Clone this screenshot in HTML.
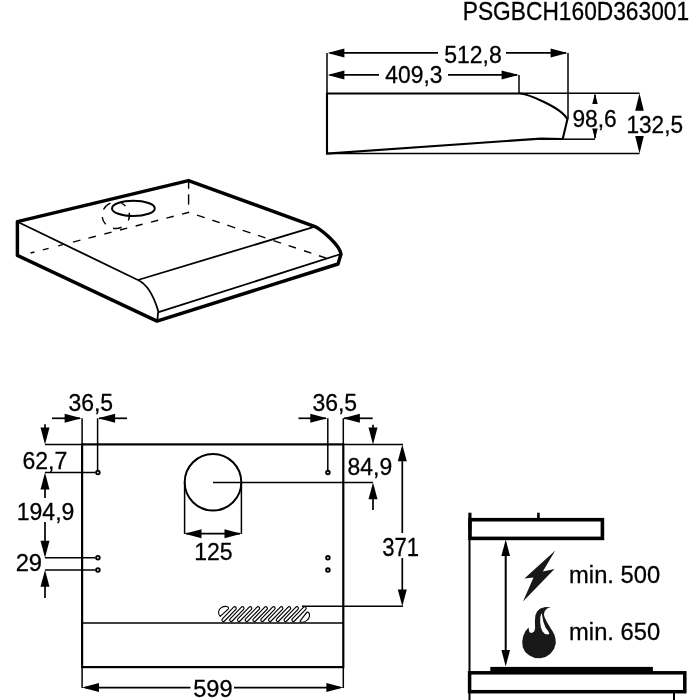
<!DOCTYPE html>
<html><head><meta charset="utf-8"><style>
html,body{margin:0;padding:0;background:#fff;}
svg{display:block;filter:grayscale(1);}
text{font-family:"Liberation Sans",sans-serif;fill:#000;stroke:#000;stroke-width:0.3px;}
</style></head><body>
<svg width="700" height="700" viewBox="0 0 700 700" stroke="#000" fill="none">
<rect x="0" y="0" width="700" height="700" fill="#fff" stroke="none"/>
<line x1="327" y1="52.9" x2="327" y2="153.5" stroke-width="1.5" />
<line x1="568" y1="52.9" x2="568" y2="119" stroke-width="1.5" />
<line x1="519" y1="74.9" x2="519" y2="93.5" stroke-width="1.5" />
<line x1="519" y1="93.3" x2="639.5" y2="93.3" stroke-width="1.5" />
<line x1="327" y1="153.5" x2="639.5" y2="153.5" stroke-width="1.5" />
<line x1="563" y1="139.2" x2="595" y2="139.2" stroke-width="1.5" />
<line x1="330" y1="52.9" x2="438" y2="52.9" stroke-width="1.7" />
<line x1="506" y1="52.9" x2="566" y2="52.9" stroke-width="1.7" />
<polygon points="327.50,52.90 344.40,48.40 344.40,57.40" fill="#000" stroke="none"/>
<polygon points="567.50,52.90 550.60,48.40 550.60,57.40" fill="#000" stroke="none"/>
<line x1="330" y1="74.9" x2="379" y2="74.9" stroke-width="1.7" />
<line x1="448" y1="74.9" x2="517" y2="74.9" stroke-width="1.7" />
<polygon points="327.50,74.90 344.40,70.40 344.40,79.40" fill="#000" stroke="none"/>
<polygon points="518.50,74.90 501.60,70.40 501.60,79.40" fill="#000" stroke="none"/>
<path d="M327,93.5 L519.3,93.5 C527,93.5 561.6,107.4 567.4,119.3 L562.7,139 L540.7,138.6 L327,153.5 Z" fill="none" stroke-width="2.1" stroke-linejoin="miter"/>
<line x1="595" y1="95" x2="595" y2="104" stroke-width="1.7" />
<line x1="595" y1="128.5" x2="595" y2="138" stroke-width="1.7" />
<polygon points="595.00,93.30 590.70,110.30 599.30,110.30" fill="#000" stroke="none"/>
<polygon points="595.00,139.20 590.70,122.20 599.30,122.20" fill="#000" stroke="none"/>
<rect x="572" y="104" width="46" height="24.5" fill="#fff" stroke="none"/>
<polygon points="639.50,93.30 635.20,110.80 643.80,110.80" fill="#000" stroke="none"/>
<polygon points="639.50,153.50 635.20,136.00 643.80,136.00" fill="#000" stroke="none"/>
<line x1="188.6" y1="181.9" x2="188.6" y2="188.7" stroke-width="1.4" />
<line x1="188.6" y1="194.3" x2="188.6" y2="204.6" stroke-width="1.4" />
<line x1="30.6" y1="252.96" x2="34.4" y2="251.98" stroke-width="1.4" />
<line x1="42.8" y1="249.83" x2="48.6" y2="248.34" stroke-width="1.4" />
<line x1="58.2" y1="245.88" x2="62.9" y2="244.67" stroke-width="1.4" />
<line x1="73" y1="242.08" x2="80.4" y2="240.18" stroke-width="1.4" />
<line x1="88.4" y1="238.13" x2="95.8" y2="236.23" stroke-width="1.4" />
<line x1="104.4" y1="234.03" x2="111.6" y2="232.18" stroke-width="1.4" />
<line x1="120" y1="230.02" x2="127.2" y2="228.18" stroke-width="1.4" />
<line x1="135.6" y1="226.02" x2="142.6" y2="224.23" stroke-width="1.4" />
<line x1="151" y1="222.07" x2="158.2" y2="220.23" stroke-width="1.4" />
<line x1="166.4" y1="218.12" x2="173.8" y2="216.22" stroke-width="1.4" />
<line x1="182" y1="214.12" x2="189.1" y2="212.3" stroke-width="1.4" />
<line x1="197" y1="215.1" x2="204.7" y2="217.66" stroke-width="1.4" />
<line x1="212.4" y1="220.23" x2="219.7" y2="222.66" stroke-width="1.4" />
<line x1="227.3" y1="225.19" x2="235.2" y2="227.82" stroke-width="1.4" />
<line x1="242.7" y1="230.32" x2="250.4" y2="232.88" stroke-width="1.4" />
<line x1="258.1" y1="235.44" x2="265.4" y2="237.87" stroke-width="1.4" />
<line x1="273.5" y1="240.57" x2="281" y2="243.07" stroke-width="1.4" />
<line x1="288.6" y1="245.6" x2="295.9" y2="248.03" stroke-width="1.4" />
<line x1="304" y1="250.73" x2="311.3" y2="253.16" stroke-width="1.4" />
<line x1="319" y1="255.72" x2="326.3" y2="258.15" stroke-width="1.4" />
<path d="M129.23,212.71 A13.7,13.2 0 0 1 128.42,220.44" fill="none" stroke-width="1.4"/>
<path d="M121.59,227.26 A13.7,13.2 0 0 1 113.02,228.23" fill="none" stroke-width="1.4"/>
<path d="M105.65,224.17 A13.7,13.2 0 0 1 102.21,216.98" fill="none" stroke-width="1.4"/>
<path d="M103.49,209.51 A13.7,13.2 0 0 1 110.45,203.15" fill="none" stroke-width="1.4"/>
<path d="M121.65,203.37 A13.7,13.2 0 0 1 125.49,205.97" fill="none" stroke-width="1.4"/>
<ellipse cx="133.4" cy="208.4" rx="21.4" ry="7.6" fill="none" stroke-width="2"/>
<line x1="19" y1="222.5" x2="137.9" y2="280" stroke-width="1.8" />
<line x1="137.9" y1="280" x2="315" y2="226.6" stroke-width="1.8" />
<path d="M137.9,280 Q150.8,285.8 158.2,311.1 L157.3,321" fill="none" stroke-width="1.8"/>
<line x1="158.6" y1="312.2" x2="339.5" y2="254.5" stroke-width="1.8" />
<path d="M17.4,255.4 L17.4,221.6 L188.5,180.6 L315,226.6 C323,231 339.5,245 341,254 L338,264 L157,321.1 Z" fill="none" stroke-width="3.45" stroke-linejoin="round"/>
<line x1="45" y1="444.4" x2="82.1" y2="444.4" stroke-width="1.5" />
<line x1="343.3" y1="444.4" x2="403" y2="444.4" stroke-width="1.5" />
<line x1="97.6" y1="418.3" x2="97.6" y2="470" stroke-width="1.5" />
<line x1="327.8" y1="418.3" x2="327.8" y2="470" stroke-width="1.5" />
<line x1="82.1" y1="418.3" x2="82.1" y2="444.4" stroke-width="1.5" />
<line x1="343.3" y1="418.3" x2="343.3" y2="444.4" stroke-width="1.5" />
<line x1="45" y1="472.6" x2="95.3" y2="472.6" stroke-width="1.5" />
<line x1="45" y1="557.7" x2="95.3" y2="557.7" stroke-width="1.5" />
<line x1="45" y1="569.9" x2="95.3" y2="569.9" stroke-width="1.5" />
<line x1="213" y1="482.4" x2="373" y2="482.4" stroke-width="1.5" />
<line x1="302" y1="606.3" x2="403" y2="606.3" stroke-width="1.5" />
<line x1="82.1" y1="667.1" x2="82.1" y2="688" stroke-width="1.5" />
<line x1="343.3" y1="667.1" x2="343.3" y2="688" stroke-width="1.5" />
<circle cx="97.9" cy="472.6" r="1.8" fill="#fff" stroke-width="1.9"/>
<circle cx="97.9" cy="557.7" r="1.8" fill="#fff" stroke-width="1.9"/>
<circle cx="97.9" cy="569.9" r="1.8" fill="#fff" stroke-width="1.9"/>
<circle cx="327.9" cy="472.5" r="1.8" fill="#fff" stroke-width="1.9"/>
<circle cx="327.9" cy="557.8" r="1.8" fill="#fff" stroke-width="1.9"/>
<circle cx="327.9" cy="570" r="1.8" fill="#fff" stroke-width="1.9"/>
<circle cx="213" cy="482.3" r="28.3" fill="none" stroke-width="2"/>
<line x1="184.6" y1="482.3" x2="184.6" y2="534" stroke-width="1.5" />
<line x1="241.4" y1="482.3" x2="241.4" y2="534" stroke-width="1.5" />
<line x1="186" y1="533.7" x2="240" y2="533.7" stroke-width="1.7" />
<polygon points="184.60,533.70 201.50,529.20 201.50,538.20" fill="#000" stroke="none"/>
<polygon points="241.40,533.70 224.50,529.20 224.50,538.20" fill="#000" stroke="none"/>
<rect x="82.1" y="444.4" width="261.20000000000005" height="222.70000000000005" fill="none" stroke-width="2.2"/>
<line x1="82.1" y1="622.9" x2="343.3" y2="622.9" stroke-width="1.5" />
<line x1="52" y1="418.3" x2="80" y2="418.3" stroke-width="1.7" />
<polygon points="81.50,418.30 64.60,413.80 64.60,422.80" fill="#000" stroke="none"/>
<line x1="99" y1="418.3" x2="127" y2="418.3" stroke-width="1.7" />
<polygon points="98.20,418.30 115.10,413.80 115.10,422.80" fill="#000" stroke="none"/>
<line x1="298.5" y1="418.3" x2="326" y2="418.3" stroke-width="1.7" />
<polygon points="327.20,418.30 310.30,413.80 310.30,422.80" fill="#000" stroke="none"/>
<line x1="344" y1="418.3" x2="372.7" y2="418.3" stroke-width="1.7" />
<polygon points="343.00,418.30 359.90,413.80 359.90,422.80" fill="#000" stroke="none"/>
<line x1="45" y1="424.3" x2="45" y2="440" stroke-width="1.7" />
<polygon points="45.00,444.40 40.50,427.50 49.50,427.50" fill="#000" stroke="none"/>
<polygon points="45.00,472.60 40.50,489.50 49.50,489.50" fill="#000" stroke="none"/>
<line x1="45" y1="485" x2="45" y2="498" stroke-width="1.7" />
<line x1="45" y1="522" x2="45" y2="553" stroke-width="1.7" />
<polygon points="45.00,557.70 40.50,540.80 49.50,540.80" fill="#000" stroke="none"/>
<polygon points="45.00,569.90 40.50,586.80 49.50,586.80" fill="#000" stroke="none"/>
<line x1="45" y1="580" x2="45" y2="598" stroke-width="1.7" />
<line x1="373" y1="424.8" x2="373" y2="440" stroke-width="1.7" />
<polygon points="373.00,444.40 368.50,427.50 377.50,427.50" fill="#000" stroke="none"/>
<polygon points="373.00,482.40 368.50,499.30 377.50,499.30" fill="#000" stroke="none"/>
<line x1="373" y1="495" x2="373" y2="510" stroke-width="1.7" />
<polygon points="402.30,444.40 397.80,461.30 406.80,461.30" fill="#000" stroke="none"/>
<line x1="402.3" y1="455" x2="402.3" y2="533" stroke-width="1.7" />
<line x1="402.3" y1="558" x2="402.3" y2="600" stroke-width="1.7" />
<polygon points="402.30,606.30 397.80,589.40 406.80,589.40" fill="#000" stroke="none"/>
<line x1="85" y1="687.6" x2="190.5" y2="687.6" stroke-width="1.7" />
<line x1="234" y1="687.6" x2="340" y2="687.6" stroke-width="1.7" />
<polygon points="82.10,687.60 99.00,683.10 99.00,692.10" fill="#000" stroke="none"/>
<polygon points="343.30,687.60 326.40,683.10 326.40,692.10" fill="#000" stroke="none"/>
<rect x="219.45" y="612.60" width="19.3" height="3.0" rx="1.5" transform="rotate(-46 229.10 614.10)" fill="#fff" stroke-width="1.15"/>
<rect x="227.22" y="612.60" width="19.3" height="3.0" rx="1.5" transform="rotate(-46 236.87 614.10)" fill="#fff" stroke-width="1.15"/>
<rect x="234.99" y="612.60" width="19.3" height="3.0" rx="1.5" transform="rotate(-46 244.64 614.10)" fill="#fff" stroke-width="1.15"/>
<rect x="242.76" y="612.60" width="19.3" height="3.0" rx="1.5" transform="rotate(-46 252.41 614.10)" fill="#fff" stroke-width="1.15"/>
<rect x="250.53" y="612.60" width="19.3" height="3.0" rx="1.5" transform="rotate(-46 260.18 614.10)" fill="#fff" stroke-width="1.15"/>
<rect x="258.30" y="612.60" width="19.3" height="3.0" rx="1.5" transform="rotate(-46 267.95 614.10)" fill="#fff" stroke-width="1.15"/>
<rect x="266.07" y="612.60" width="19.3" height="3.0" rx="1.5" transform="rotate(-46 275.72 614.10)" fill="#fff" stroke-width="1.15"/>
<rect x="273.84" y="612.60" width="19.3" height="3.0" rx="1.5" transform="rotate(-46 283.49 614.10)" fill="#fff" stroke-width="1.15"/>
<rect x="281.61" y="612.60" width="19.3" height="3.0" rx="1.5" transform="rotate(-46 291.26 614.10)" fill="#fff" stroke-width="1.15"/>
<rect x="289.38" y="612.60" width="19.3" height="3.0" rx="1.5" transform="rotate(-46 299.03 614.10)" fill="#fff" stroke-width="1.15"/>
<path d="M220.2,616.4 L228.4,608.9 C229.5,606.5 225,605.5 221.5,607.5 C218.5,609.3 217.2,613.5 220.2,616.4 Z" fill="#fff" stroke-width="1.1"/>
<path d="M300,621.1 L306.8,612.3 C308.5,611.5 309.8,613.5 309.5,616.1 C309,619 306,622 302.5,622.3 C301.3,622.4 300.3,621.8 300,621.1 Z" fill="#fff" stroke-width="1.1"/>
<line x1="469.5" y1="530" x2="469.5" y2="700" stroke-width="2" />
<line x1="469.9" y1="512.7" x2="469.9" y2="530" stroke-width="3.2" />
<line x1="538.4" y1="512.7" x2="538.4" y2="520" stroke-width="2.6" />
<rect x="470" y="519.7" width="132.4" height="18.7" fill="none" stroke-width="3.6"/>
<line x1="505.7" y1="552" x2="505.7" y2="652" stroke-width="2" />
<polygon points="505.70,539.50 501.40,556.00 510.00,556.00" fill="#000" stroke="none"/>
<polygon points="505.70,666.50 501.40,650.00 510.00,650.00" fill="#000" stroke="none"/>
<path d="M555.30,550.60 L524.40,578.60 L533.50,577.40 L523.00,601.60 L554.50,569.00 L542.80,571.40 Z" fill="#161918" stroke="none" stroke-width="0"/>
<path d="M550.8,607.3 L547.0,608.6 L544.7,611.2 L543.9,614.3 L544.5,617.0 L546.9,622.0 L550.0,627.2 L552.6,631.3 L554.3,634.5 L555.5,638.8 L555.8,643.6 L554.0,649.0 L550.4,653.8 L545.6,657.1 L540.2,658.3 L534.8,658.0 L529.4,655.6 L525.2,652.0 L522.8,647.2 L522.2,641.8 L523.1,636.4 L525.2,631.6 L528.5,627.4 L529.4,632.2 L531.8,633.1 L534.2,631.6 L535.1,628.0 L534.9,621.0 L535.4,615.3 L537.2,611.2 L540.3,608.6 L545.4,607.1 Z M541.6,613.0 L540.3,616.9 L540.2,622.0 L540.8,627.2 L542.4,631.3 L544.9,633.9 L548.0,634.6 L549.4,633.8 L548.2,631.3 L545.4,627.2 L543.4,622.0 L542.4,616.9 L541.9,614.3 Z" fill="#161918" fill-rule="evenodd" stroke="none"/>
<rect x="490.3" y="666.9" width="162.6" height="5" fill="#000" stroke="none"/>
<rect x="469.6" y="672.8" width="215.2" height="18.9" fill="none" stroke-width="3.5"/>
<line x1="674" y1="693" x2="674" y2="700" stroke-width="2" />
<text x="0" y="0" font-size="25" transform="translate(462.78,20.20) scale(0.9100,0.9971)">PSGBCH160D363001</text>
<text x="0" y="0" font-size="25" transform="translate(444.18,62.96) scale(0.9207,0.9521)">512,8</text>
<text x="0" y="0" font-size="25" transform="translate(385.34,83.16) scale(0.9131,0.9690)">409,3</text>
<text x="0" y="0" font-size="25" transform="translate(572.46,126.55) scale(0.9103,0.9803)">98,6</text>
<text x="0" y="0" font-size="25" transform="translate(626.39,132.96) scale(0.9059,0.9657)">132,5</text>
<text x="0" y="0" font-size="25" transform="translate(68.38,411.26) scale(0.9204,0.9543)">36,5</text>
<text x="0" y="0" font-size="25" transform="translate(312.38,411.26) scale(0.9183,0.9543)">36,5</text>
<text x="0" y="0" font-size="25" transform="translate(22.45,468.50) scale(0.9211,0.9797)">62,7</text>
<text x="0" y="0" font-size="25" transform="translate(16.76,519.66) scale(0.9210,0.9746)">194,9</text>
<text x="0" y="0" font-size="25" transform="translate(15.67,570.55) scale(0.9500,0.9803)">29</text>
<text x="0" y="0" font-size="25" transform="translate(347.58,474.66) scale(0.9161,0.9634)">84,9</text>
<text x="0" y="0" font-size="25" transform="translate(194.26,559.66) scale(0.9213,0.9714)">125</text>
<text x="0" y="0" font-size="25" transform="translate(382.14,556.00) scale(0.8850,1.0145)">371</text>
<text x="0" y="0" font-size="25" transform="translate(193.16,697.36) scale(0.9443,0.9408)">599</text>
<text x="0" y="0" font-size="25" transform="translate(569.09,582.66) scale(0.9500,0.9521)">min. 500</text>
<text x="0" y="0" font-size="25" transform="translate(569.09,639.66) scale(0.9500,0.9521)">min. 650</text>
</svg>
</body></html>
